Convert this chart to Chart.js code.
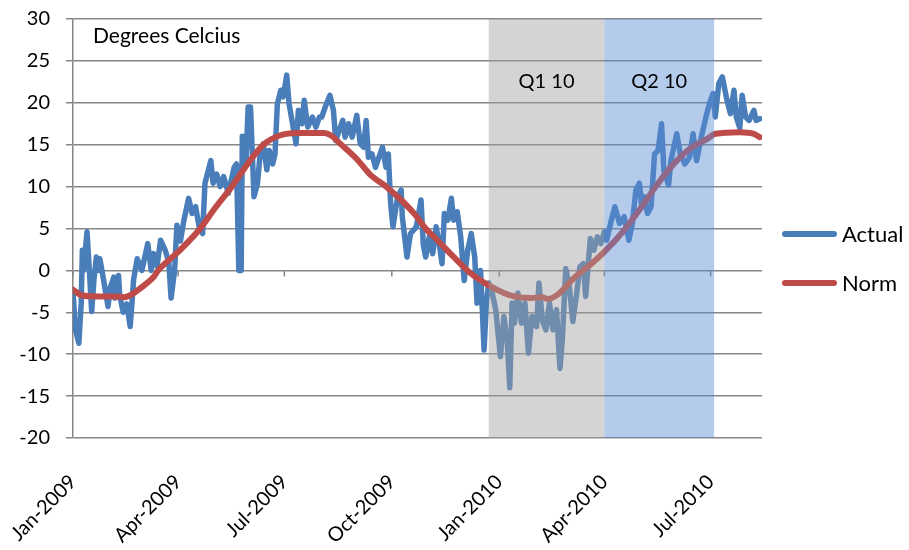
<!DOCTYPE html>
<html>
<head>
<meta charset="utf-8">
<script src="https://cdn.jsdelivr.net/npm/chart.js@4.4.1/dist/chart.umd.min.js"></script>
<style>
  html, body { margin: 0; padding: 0; background: #fff; }
</style>
</head>
<body>
<canvas id="myChart" width="909" height="550"></canvas>
<script>
// x values are days counted from 1 Jan 2009
const tickDays = [0, 90, 181, 273, 365, 455, 546];
const tickLabels = ['Jan-2009', 'Apr-2009', 'Jul-2009', 'Oct-2009', 'Jan-2010', 'Apr-2010', 'Jul-2010'];

// daily temperature
const actualDays = [0, 2, 5, 7, 8, 9, 12, 14, 16, 18, 20, 22, 23, 26, 30, 32, 35, 36, 39, 40, 43, 46, 49, 52, 55, 59,
  64, 67, 69, 72, 75, 79, 82, 84, 87, 89, 92, 95, 99, 102, 105, 108, 111, 113, 118, 120, 123, 126, 129, 133, 138, 140,
  142, 144, 145, 148, 150, 152, 155, 158, 160, 163, 166, 168, 171, 173, 175, 178, 180, 183, 185, 188, 191, 193, 196,
  198, 201, 205, 208, 211, 213, 216, 220, 223, 225, 228, 231, 233, 236, 239, 243, 246, 249, 251, 253, 256, 259, 265,
  268, 270, 272, 274, 278, 281, 282, 284, 286, 289, 294, 298, 300, 302, 305, 308, 311, 314, 316, 318, 321, 324, 326,
  329, 332, 335, 338, 341, 344, 346, 349, 352, 354, 356, 359, 362, 366, 369, 372, 374, 376, 378, 381, 384, 387, 390,
  393, 397, 399, 402, 405, 408, 411, 414, 417, 419, 422, 425, 428, 431, 434, 437, 439, 443, 446, 449, 452, 455, 457,
  461, 464, 468, 472, 476, 479, 482, 485, 487, 489, 492, 495, 498, 501, 504, 506, 510, 512, 517, 520, 524, 528, 531,
  534, 538, 542, 545, 548, 550, 553, 556, 560, 563, 566, 568, 571, 573, 576, 579, 583, 585, 588];
const actualTemps = [-2.5, -7, -8.7, -4, 2.4, 0, 4.6, 0, -4.9, -1, 1.6, 0, 1.4, -1, -4.3, -2, -0.8, -3.3, -0.6, -3, -5, -4, -6.7, -1, 1.4, 0,
  3.2, 0, 2, 0.5, 3.6, 2.4, 1, -3.3, 0, 5.4, 3.5, 6, 8.6, 6.8, 7.6, 5.2, 4.4, 10.4, 13.1, 10.4, 11.5, 10, 11.2, 9.2, 12.3, 12.7,
  0, 0, 16, 12.7, 19.5, 19.5, 8.8, 10.4, 13.5, 15.1, 12, 14.3, 12.7, 13.9, 19.9, 21.5, 20.7, 23.3, 19.9, 17.5, 15.1, 19.1, 17.5,
  20.3, 17.1, 18.3, 17.1, 18.3, 18.3, 19.5, 20.9, 19.1, 15.5, 16.7, 17.9, 15.9, 17.5, 15.9, 18.5, 15.1, 14.7, 17.9, 13.5, 13.9, 12.3, 14.7,
  12.3, 13.9, 8, 5.2, 8.8, 9.6, 6.4, 4, 1.6, 4.4, 5.2, 8.4, 3, 1.6, 4, 2, 5.2, 2.8, 0.8, 6.8, 6, 8.6, 6,
  7, 4, -1.2, 2.4, 4.4, 1.6, -3.9, 0, -9.5, -3.9, -1.5, -2.7, -4.7, -10.3, -5.5, -8.7, -14, -3.9, -6.3, -2.7, -6.3, -3.9, -9.9,
  -5.5, -6.7, -1.5, -6, -7.1, -3.9, -7.1, -4.7, -11.7, -8.3, 0.2, -1.9, -6.1, -3.1, 0.4, 0.8, -3.1, 3.8, 2.4, 4, 3.2, 4.6, 3.6,
  6, 7.6, 5.6, 6.4, 3.6, 5.6, 9.6, 10.4, 7.6, 8.8, 6.8, 7.6, 13.9, 14.3, 17.5, 11.9, 10.2, 13.1, 16.3, 13.9, 12.7, 13.5, 16.3,
  13.1, 15.9, 18.3, 19.9, 21.1, 18.3, 22.3, 23.1, 20.3, 18.7, 21.5, 18.3, 17, 20.9, 18.3, 17.9, 19.1, 17.9, 18.1];

// seasonal norm
const normDays = [0, 8, 20, 35, 44, 50, 57, 69, 73, 90, 109, 122, 136, 150, 163, 177, 192, 205, 215, 221, 229, 243,
  254, 269, 281, 292, 302, 312, 326, 341, 355, 369, 378, 392, 401, 407, 415, 429, 444, 455, 472, 486, 500, 515, 529, 543,
  550, 571, 583, 588];
const normTemps = [-2.3, -3, -3.1, -3.1, -3.2, -2.9, -2.2, -0.8, 0, 2.2, 5, 7.5, 10, 12.8, 15, 16.1, 16.4, 16.4, 16.4, 16.1, 15.1, 13.3,
  11.5, 9.9, 8.4, 6.8, 5, 3.6, 1.6, -0.4, -1.7, -2.7, -3.1, -3.3, -3.2, -3.4, -2.9, -0.9, 0.8, 2.2, 4.8, 7.4, 10.2, 12.8, 14.6, 15.7,
  16.3, 16.5, 16.3, 15.9];

// shaded quarters
const bandLabels = ['Q1 10', 'Q2 10'];
const bandStart = [356, 455];
const bandEnd = [455, 549];

const bandColors = ['rgba(160,160,160,0.45)', 'rgba(90,140,212,0.45)'];
const font = 'Lato';

// shaded quarters go over the lines, like the original
const bandsPlugin = {
  id: 'bands',
  afterDatasetsDraw(chart) {
    const {ctx, chartArea, scales} = chart;
    ctx.save();
    bandLabels.forEach((lab, i) => {
      const x1 = scales.x.getPixelForValue(bandStart[i]);
      const x2 = scales.x.getPixelForValue(bandEnd[i]);
      ctx.fillStyle = bandColors[i];
      ctx.fillRect(x1, chartArea.top, x2 - x1, chartArea.bottom - chartArea.top);
    });
    ctx.fillStyle = '#000';
    ctx.font = '20px ' + font;
    ctx.textAlign = 'center';
    ctx.textBaseline = 'middle';
    bandLabels.forEach((lab, i) => {
      const xm = (scales.x.getPixelForValue(bandStart[i]) + scales.x.getPixelForValue(bandEnd[i])) / 2;
      ctx.fillText(lab, xm, scales.y.getPixelForValue(22.5));
    });
    ctx.textAlign = 'left';
    ctx.font = '21px ' + font;
    ctx.fillText('Degrees Celcius', chartArea.left + 20, chartArea.top + 17);
    ctx.restore();
  }
};

// small tick marks hanging from the zero line
const zeroTicksPlugin = {
  id: 'zeroTicks',
  beforeDatasetsDraw(chart) {
    const {ctx, scales} = chart;
    const y0 = scales.y.getPixelForValue(0);
    ctx.save();
    ctx.strokeStyle = '#868686';
    ctx.lineWidth = 1.5;
    tickDays.forEach(d => {
      const x = scales.x.getPixelForValue(d);
      ctx.beginPath();
      ctx.moveTo(x, y0);
      ctx.lineTo(x, y0 + 6);
      ctx.stroke();
    });
    ctx.restore();
  }
};

// legend on the right
const sideLegend = {
  id: 'sideLegend',
  afterDraw(chart) {
    const {ctx, chartArea} = chart;
    ctx.save();
    ctx.font = '22px ' + font;
    ctx.textBaseline = 'middle';
    ctx.lineCap = 'round';
    chart.data.datasets.forEach((ds, i) => {
      const y = chartArea.top + 215 + i * 49;
      ctx.strokeStyle = ds.borderColor;
      ctx.lineWidth = 6;
      ctx.beginPath();
      ctx.moveTo(chartArea.right + 23, y);
      ctx.lineTo(chartArea.right + 72, y);
      ctx.stroke();
      ctx.fillStyle = '#000';
      ctx.fillText(ds.label, chartArea.right + 80, y + 1);
    });
    ctx.restore();
  }
};

const ctx = document.getElementById('myChart').getContext('2d');
const chart = new Chart(ctx, {
  type: 'line',
  data: {
    datasets: [{
      label: 'Actual',
      data: actualDays.map((d, i) => ({x: d, y: actualTemps[i]})),
      borderColor: '#4a7ebb',
      borderWidth: 5.5,
      borderJoinStyle: 'round',
      borderCapStyle: 'round',
      pointRadius: 0,
      tension: 0,
      order: 1
    }, {
      label: 'Norm',
      data: normDays.map((d, i) => ({x: d, y: normTemps[i]})),
      borderColor: '#be4b48',
      borderWidth: 6,
      borderJoinStyle: 'round',
      borderCapStyle: 'round',
      pointRadius: 0,
      cubicInterpolationMode: 'monotone',
      order: 0
    }]
  },
  options: {
    responsive: false,
    animation: false,
    layout: { padding: { top: 19, right: 147, left: 0, bottom: 0 } },
    plugins: { legend: { display: false }, tooltip: { enabled: false } },
    scales: {
      x: {
        type: 'linear',
        min: 0,
        max: 590,
        afterBuildTicks: scale => { scale.ticks = tickDays.map(v => ({value: v})); },
        afterFit: scale => {
          scale.height = 112;
          scale.paddingLeft = 0;
          scale.paddingRight = 0;
        },
        grid: { display: false, drawTicks: false },
        border: { display: false },
        ticks: {
          autoSkip: false,
          minRotation: 45,
          maxRotation: 45,
          padding: 32,
          color: '#000',
          font: { family: font, size: 20 },
          callback: (v, i) => tickLabels[i]
        }
      },
      y: {
        min: -20,
        max: 30,
        afterFit: scale => {
          scale.width = 73;
          scale.paddingTop = 0;
          scale.paddingBottom = 0;
        },
        grid: { color: '#878787', lineWidth: 1.5, tickLength: 7 },
        border: { display: true, color: '#878787', width: 1.5 },
        ticks: {
          stepSize: 5,
          padding: 16,
          color: '#000',
          font: { family: font, size: 20 }
        }
      }
    }
  },
  plugins: [bandsPlugin, zeroTicksPlugin, sideLegend]
});
</script>
</body>
</html>
